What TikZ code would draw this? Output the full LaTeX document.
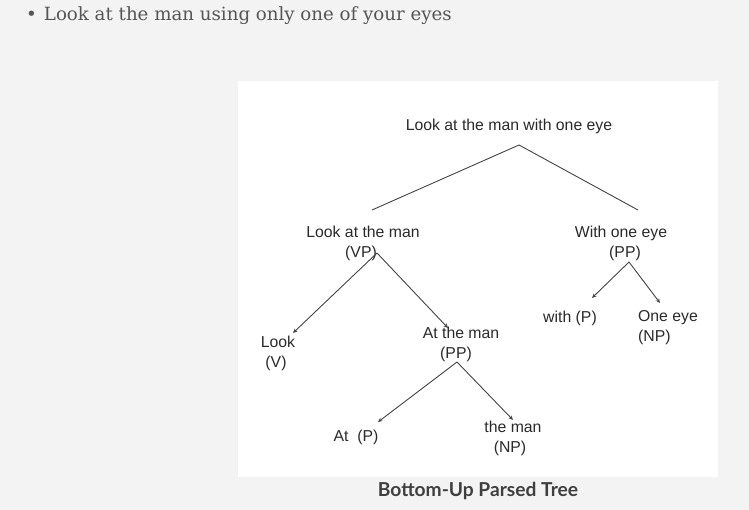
\documentclass[tikz,border=0pt]{standalone}
\usepackage{fontspec}
\setmainfont{Liberation Sans}
\newfontfamily\bulletfont{DejaVu Serif}
\newfontfamily\capfont{Lato}
\usetikzlibrary{arrows.meta}
\definecolor{pagebg}{HTML}{F3F3F3}
\definecolor{linegray}{HTML}{444444}
\definecolor{txtgray}{HTML}{555555}
\definecolor{tree}{HTML}{2A2A2A}
\begin{document}
\begin{tikzpicture}[x=1pt,y=-1pt,
  lbl/.style={text=tree,font=\fontsize{15.8}{20}\selectfont,inner sep=0pt,align=center},
  edge/.style={draw=linegray,line width=0.9pt},
  arr/.style={edge,-{Stealth[length=4.5pt,width=4pt]}}]
\fill[pagebg] (0,0) rectangle (749,510);
\useasboundingbox (0,0) rectangle (749,510);
\fill[white] (238,81) rectangle (718,477);
% bullet line
\node[text=txtgray,font=\bulletfont\fontsize{18.2}{22}\selectfont,anchor=west,inner sep=0pt] (bul) at (26,16) {\textbullet\hspace{7pt}Look at the man using only one of your eyes};
% nodes
\node[lbl] (root) at (509,126) {Look at the man with one eye};
\node[lbl] (vp) at (363,243) {Look at the man\\(VP)\hspace*{4pt}};
\node[lbl] (wpp) at (621,243) {With one eye\\\hspace*{8pt}(PP)};
\node[lbl] (look) at (278,353) {Look\\(V)\hspace*{4pt}};
\node[lbl] (pp) at (461,344) {At the man\\(PP)\hspace*{10pt}};
\node[lbl] (withp) at (570,318) {with (P)};
\node[lbl,align=left] (oneeye) at (668,328) {One eye\\(NP)};
\node[lbl] (atp) at (356,437) {At\ \ (P)};
\node[lbl] (theman) at (513,438) {the man\\(NP)\hspace*{6pt}};
\node[text=tree!90,font=\capfont\bfseries\fontsize{19.2}{22}\selectfont,inner sep=0pt] (cap) at (478,491) {Bottom-Up Parsed Tree};
% connection points
\coordinate (r0) at (519,145);
\coordinate (vpt) at (372,210);
\coordinate (wpt) at (638,210);
\coordinate (vp0) at (377,253);
\coordinate (look0) at (293,333);
\coordinate (pp1) at (448,328);
\coordinate (w0) at (629,262);
\coordinate (withp1) at (592,298);
\coordinate (oneeye1) at (660,303);
\coordinate (pp0) at (457,362);
\coordinate (atp1) at (378,422);
\coordinate (theman1) at (513,420);
% edges
\draw[edge] (vpt) -- (r0) -- (wpt);
\draw[arr] (vp0) -- (look0);
\draw[arr] (vp0) -- (pp1);
\draw[arr] (w0) -- (withp1);
\draw[arr] (w0) -- (oneeye1);
\draw[arr] (pp0) -- (atp1);
\draw[arr] (pp0) -- (theman1);
\end{tikzpicture}
\end{document}
